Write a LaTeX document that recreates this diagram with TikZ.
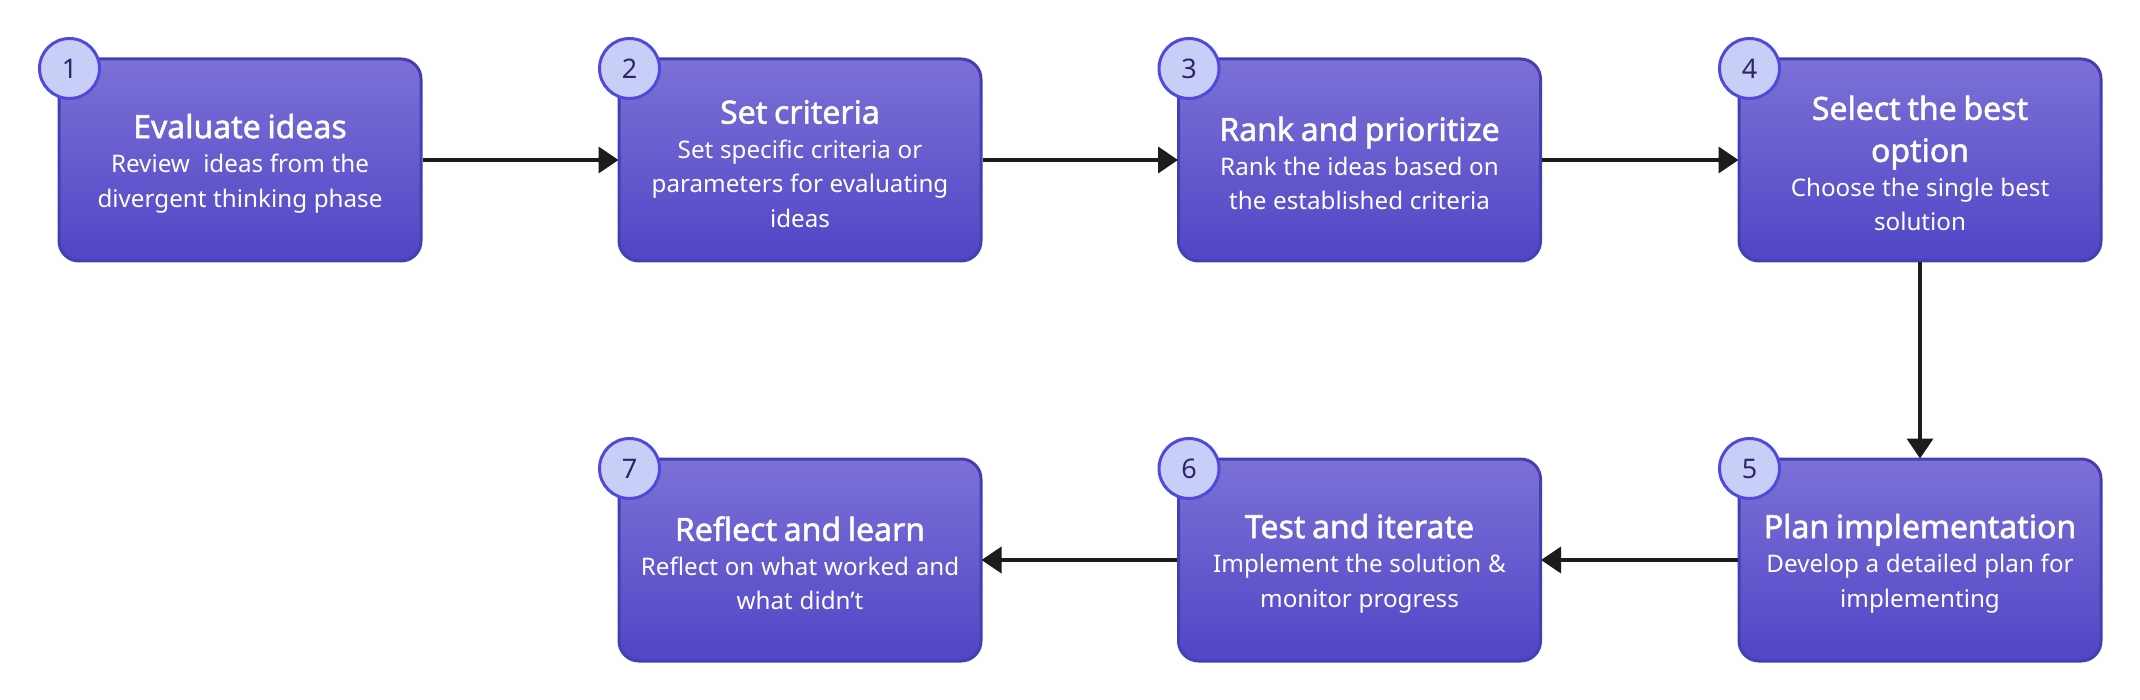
\documentclass[tikz,border=0pt]{standalone}
\usepackage{fontspec}
\setmainfont{Noto Sans}
\newfontfamily\titlefam{Noto Sans}[FakeBold=1.6]
\usetikzlibrary{arrows.meta,shadings}
\definecolor{boxtop}{RGB}{123,113,214}
\definecolor{boxbot}{RGB}{80,70,198}
\definecolor{boxline}{RGB}{72,62,180}
\definecolor{circfill}{RGB}{201,206,246}
\definecolor{circline}{RGB}{82,72,222}
\definecolor{numcol}{RGB}{42,40,105}
\definecolor{arrcol}{RGB}{28,28,28}
\newcommand{\titlef}{\titlefam\fontsize{16}{21}\selectfont\rule{0pt}{15.5pt}}
\newcommand{\subf}{\fontsize{12.1}{17.25}\selectfont}
\tikzset{
  stepbox/.style={rectangle, rounded corners=10pt, minimum width=181pt, minimum height=101pt,
    top color=boxtop, bottom color=boxbot, draw=boxline, line width=1.5pt,
    text=white, text width=175pt, align=center, inner sep=0pt},
  numcirc/.style={circle, minimum size=30pt, inner sep=0pt, fill=circfill, draw=circline,
    line width=1.5pt, text=numcol, font=\fontsize{13.5}{15}\selectfont},
  flow/.style={draw=arrcol, line width=1.9pt, -{Triangle[length=10pt,width=13pt]}, shorten >=-0.5pt}
}
\begin{document}
\begin{tikzpicture}[x=0.5pt,y=-0.5pt]
\useasboundingbox (0,0) rectangle (2140,700);
\node[stepbox] (b1) at (240,160) {{\titlef Evaluate ideas\par}\subf Review\ \ ideas from the\\divergent thinking phase\par};
\node[stepbox] (b2) at (800,160) {{\titlef Set criteria\par}\subf Set specific criteria or\\parameters for evaluating\\ideas\par};
\node[stepbox] (b3) at (1359.5,160) {{\titlef Rank and prioritize\par}\subf Rank the ideas based on\\the established criteria\par};
\node[stepbox] (b4) at (1920,160) {{\titlef Select the best\\option\par}\subf Choose the single best\\solution\par};
\node[stepbox] (b5) at (1920,560) {{\titlef Plan implementation\par}\subf Develop a detailed plan for\\implementing\par};
\node[stepbox] (b6) at (1359.5,560) {{\titlef Test and iterate\par}\subf Implement the solution \&\\monitor progress\par};
\node[stepbox] (b7) at (800,560) {{\titlef Reflect and learn\par}\subf Reflect on what worked and\\what didn’t\par};
\foreach \i in {1,...,7}{
  \node[numcirc] (c\i) at ([shift={(12,11)}]b\i.north west) {\i};
}
\draw[flow] (b1) -- (b2);
\draw[flow] (b2) -- (b3);
\draw[flow] (b3) -- (b4);
\draw[flow] (b4) -- (b5);
\draw[flow] (b5) -- (b6);
\draw[flow] (b6) -- (b7);
\end{tikzpicture}
\end{document}
